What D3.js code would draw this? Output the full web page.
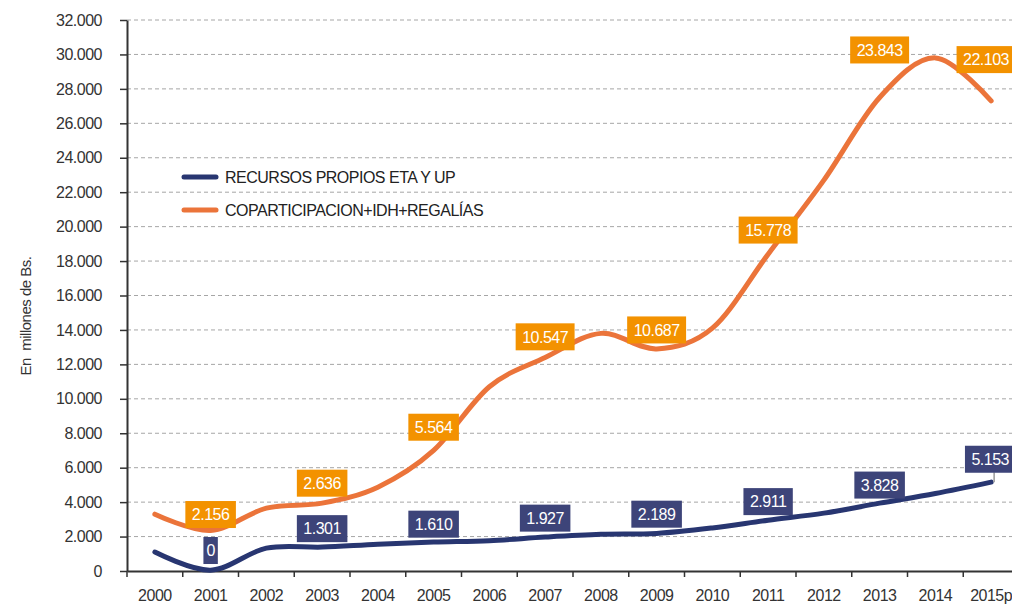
<!DOCTYPE html>
<html>
<head>
<meta charset="utf-8">
<script src="https://cdn.jsdelivr.net/npm/d3@7"></script>
<style>
  body { margin: 0; background: #fff; }
  text { font-family: "Liberation Sans", Arial, sans-serif; letter-spacing: -0.5px; }
</style>
</head>
<body>
<div id="chart"></div>
<script>
const years = ["2000", "2001", "2002", "2003", "2004", "2005", "2006", "2007",
  "2008", "2009", "2010", "2011", "2012", "2013", "2014", "2015p"];
// curve values as drawn (millones de Bs.)
const propios = [1100, 50, 1330, 1390, 1560, 1680, 1760, 1970, 2130, 2180, 2500, 2950, 3360, 3940, 4500, 5160];
const copar = [3300, 2350, 3650, 3940, 4870, 7000, 10700, 12400, 13800, 12900, 14100, 18400, 22700, 27500, 29800, 27300];
// data labels
const labelYears = ["2001", "2003", "2005", "2007", "2009", "2011", "2013", "2015p"];
const propiosLabels = ["0", "1.301", "1.610", "1.927", "2.189", "2.911", "3.828", "5.153"];
const coparLabels = ["2.156", "2.636", "5.564", "10.547", "10.687", "15.778", "23.843", "22.103"];
const propiosLabelAt = [1190, 2460, 2720, 3070, 3300, 4030, 4990, 6490];
const coparLabelAt = [3280, 5100, 8350, 13600, 14000, 19800, 30260, 29700];
const yTicks = d3.range(0, 32001, 2000);
const seriesNames = ["RECURSOS PROPIOS ETA Y UP", "COPARTICIPACION+IDH+REGALÍAS"];

const navyLine = "#283671", navyBox = "#3d4479";
const orangeLine = "#eb743a", orangeBox = "#f39200";

const width = 1012, height = 604;
const svg = d3.select("#chart").append("svg")
  .attr("width", width).attr("height", height);

const x = d3.scaleBand().domain(years).range([127, 1019]);
const y = d3.scaleLinear().domain([0, 32000]).range([571, 20]);
const fmt = d3.formatLocale({ decimal: ",", thousands: ".", grouping: [3], currency: ["", ""] }).format(",");
const cx = (d) => x(d) + x.bandwidth() / 2;

// grid
svg.append("g").selectAll("line")
  .data(yTicks.filter((d) => d > 0))
  .enter().append("line")
  .attr("x1", 127).attr("x2", width)
  .attr("y1", (d) => y(d)).attr("y2", (d) => y(d))
  .attr("stroke", "#a6a6a6").attr("stroke-width", 1)
  .attr("stroke-dasharray", "4,3");

// y axis
const yAxis = svg.append("g")
  .attr("transform", "translate(127,0)")
  .call(d3.axisLeft(y).tickValues(yTicks).tickFormat(fmt).tickSize(7).tickSizeOuter(0).tickPadding(18));
yAxis.selectAll("text").attr("font-size", 16).attr("fill", "#333")
  .style("font-family", '"Liberation Sans", Arial, sans-serif');
yAxis.selectAll("line").attr("stroke", "#333").attr("stroke-width", 1.5);
yAxis.select(".domain").attr("stroke", "#333").attr("stroke-width", 2);

// x axis
const xAxis = svg.append("g")
  .attr("transform", "translate(0,571)")
  .call(d3.axisBottom(x).tickSize(0).tickPadding(19));
xAxis.selectAll("text").attr("font-size", 16).attr("fill", "#333")
  .style("font-family", '"Liberation Sans", Arial, sans-serif');
xAxis.select(".domain").attr("stroke", "#333").attr("stroke-width", 2);
xAxis.selectAll(".sep")
  .data(years)
  .enter().append("line")
  .attr("class", "sep")
  .attr("x1", (d) => x(d)).attr("x2", (d) => x(d))
  .attr("y1", 0).attr("y2", 6)
  .attr("stroke", "#333").attr("stroke-width", 1.5);

// y title
svg.append("text")
  .attr("transform", "translate(31,316) rotate(-90)")
  .attr("text-anchor", "middle")
  .attr("font-size", 15).attr("fill", "#333")
  .attr("xml:space", "preserve")
  .text("En  millones de Bs.");

// lines
const line = d3.line()
  .x((d, i) => cx(years[i]))
  .y((d) => y(d))
  .curve(d3.curveCardinal.tension(0));

svg.append("path").datum(copar)
  .attr("fill", "none").attr("stroke", orangeLine).attr("stroke-width", 5)
  .attr("stroke-linecap", "round").attr("d", line);
svg.append("path").datum(propios)
  .attr("fill", "none").attr("stroke", navyLine).attr("stroke-width", 5)
  .attr("stroke-linecap", "round").attr("d", line);

// leader for last navy label
const last = labelYears.length - 1;
svg.append("line")
  .attr("x1", cx(labelYears[last]) + 3).attr("x2", cx(labelYears[last]) + 3)
  .attr("y1", y(propiosLabelAt[last]) + 13)
  .attr("y2", y(propios[years.indexOf(labelYears[last])]))
  .attr("stroke", "#999").attr("stroke-width", 1.5);

// data labels
function drawLabels(labels, at, fill) {
  const g = svg.append("g").selectAll("g")
    .data(labels)
    .enter().append("g");
  const rects = g.append("rect").attr("fill", fill);
  const texts = g.append("text")
    .attr("text-anchor", "middle").attr("dy", "0.36em")
    .attr("font-size", 16).attr("fill", "#fff")
    .text((d) => d);
  texts.each(function (d, i) {
    const w = this.getComputedTextLength();
    const pad = d.length > 1 ? 6.5 : 3;
    // keep the text inside the page at the right edge
    const px = Math.min(cx(labelYears[i]), width - w / 2 - 3);
    d3.select(this.parentNode).attr("transform", `translate(${px},${y(at[i])})`);
    d3.select(rects.nodes()[i])
      .attr("x", -w / 2 - pad).attr("width", w + 2 * pad)
      .attr("y", -13.5).attr("height", 27);
  });
}
drawLabels(coparLabels, coparLabelAt, orangeBox);
drawLabels(propiosLabels, propiosLabelAt, navyBox);

// legend
const legendColors = [navyLine, orangeLine];
const legend = svg.append("g").selectAll("g")
  .data(seriesNames)
  .enter().append("g")
  .attr("transform", (d, i) => `translate(182,${177 + i * 33})`);
legend.append("line")
  .attr("x1", 2).attr("x2", 34)
  .attr("stroke", (d, i) => legendColors[i]).attr("stroke-width", 5)
  .attr("stroke-linecap", "round");
legend.append("text")
  .attr("x", 43).attr("dy", "0.36em")
  .attr("font-size", 16).attr("fill", "#222")
  .text((d) => d);
</script>
</body>
</html>
